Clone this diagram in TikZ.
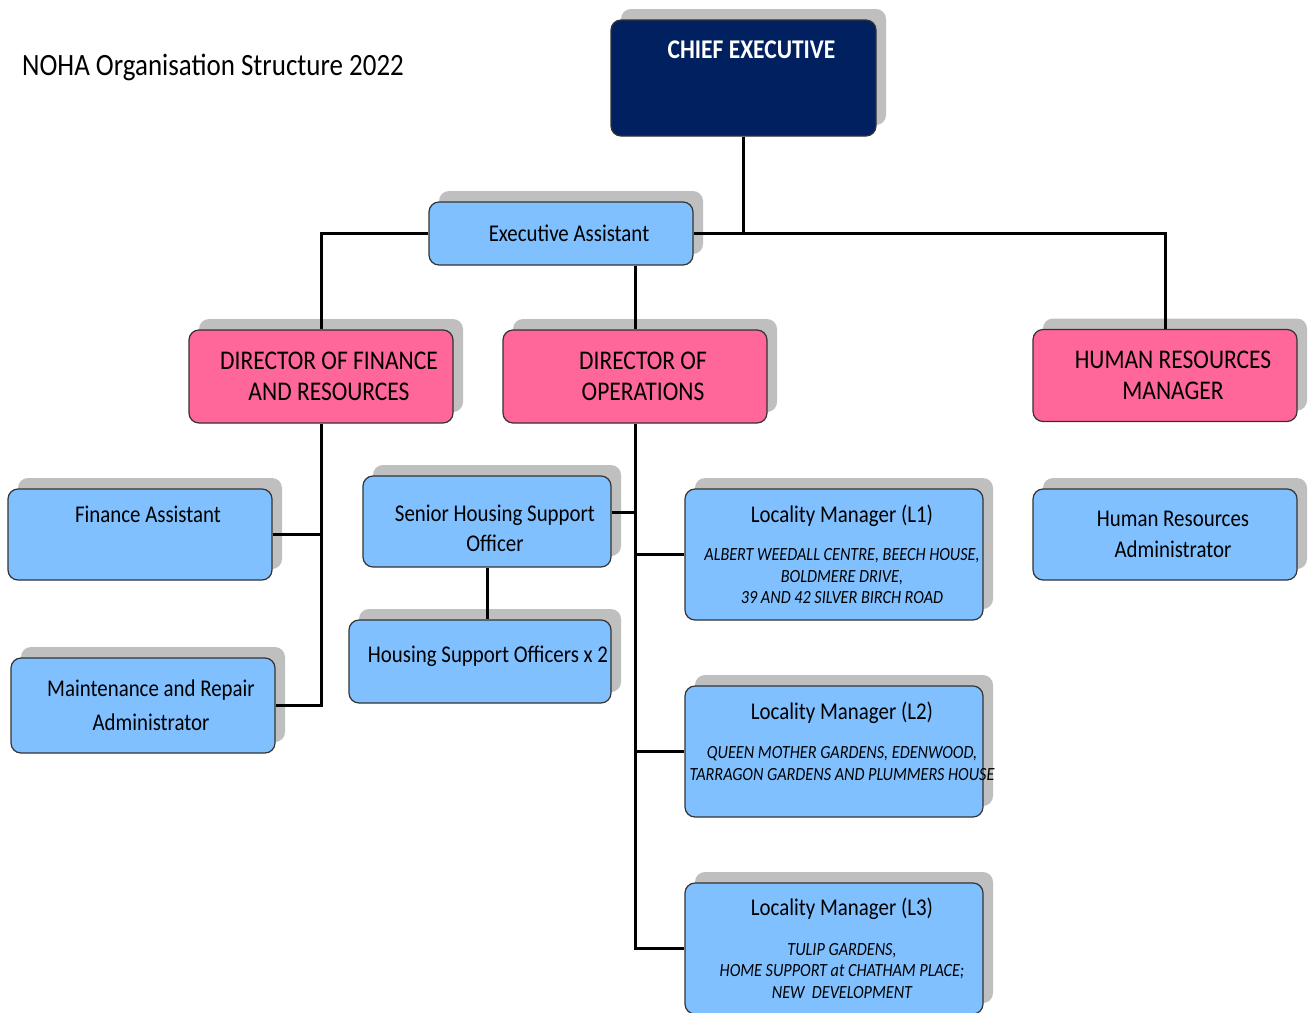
\documentclass[tikz,border=0pt]{standalone}
\usepackage{fontspec}
\setmainfont{Carlito}[FakeStretch=0.87]
\usetikzlibrary{shadows}

\definecolor{navy}{RGB}{0,32,96}
\definecolor{rosepink}{RGB}{255,102,153}
\definecolor{skyblue}{RGB}{128,192,255}
\definecolor{shadowgray}{RGB}{191,191,191}

\tikzset{
    post/.style={draw=black!80, line width=1.2pt, rounded corners=10pt, align=flush center, inner xsep=0pt,
        drop shadow={shadow xshift=10pt, shadow yshift=11pt, fill=shadowgray, opacity=1},
        execute at begin node={\leftskip=16pt plus 1fill\rightskip=0pt plus 1fill\parfillskip=0pt\relax}},
    size/.style 2 args={minimum width=#1, text width=#1, minimum height=#2},
    chief/.style={post, fill=navy, text=white, font=\fontsize{27}{31}\selectfont\bfseries},
    director/.style={post, fill=rosepink, font=\fontsize{27}{31}\selectfont},
    staff/.style={post, fill=skyblue, font=\fontsize{24}{31}\selectfont},
    link/.style={line width=3pt, black}
}
\newcommand{\sites}[1]{{\itshape\fontsize{18.6}{21.5}\selectfont #1\par}}

\begin{document}
\begin{tikzpicture}[x=1pt,y=-1pt]
    \useasboundingbox (0,0) rectangle (1309,1012);
    \fill[white] (0,0) rectangle (1309,1012);
    \node[anchor=west, inner sep=0pt, font=\fontsize{31}{36}\selectfont] (title) at (22,67) {NOHA Organisation Structure 2022};
    \node[chief, size={265pt}{116pt}, text depth=56pt] (ceo) at (743.5,78) {CHIEF EXECUTIVE};
    \node[staff, size={264pt}{63pt}] (ea) at (561,233.5) {Executive Assistant};%top%
    \node[director, size={264pt}{93pt}] (dfr) at (321,376.5) {DIRECTOR OF FINANCE\\AND RESOURCES};
    \node[director, size={264pt}{93pt}] (dop) at (635,376.5) {DIRECTOR OF\\OPERATIONS};
    \node[director, size={264pt}{92pt}] (hrm) at (1165,375.5) {HUMAN RESOURCES\\MANAGER};%directors%
    \node[staff, size={264pt}{91pt}, text depth=40pt] (fa) at (140,534.5) {Finance Assistant};
    \node[staff, size={264pt}{95pt}, font=\fontsize{24}{34}\selectfont] (mra) at (143,705.5) {Maintenance and Repair\\Administrator};
    \node[staff, size={248pt}{91pt}, font=\fontsize{24}{30}\selectfont] (shso) at (487,521.5) {\rule{0pt}{30pt}Senior Housing Support\\Officer};
    \node[staff, size={262pt}{83pt}, text depth=15pt] (hso) at (480,661.5) {\mbox{Housing Support Officers x 2}};
    \node[staff, size={298pt}{131pt}] (lm1) at (834,554.5) {Locality Manager (L1)\par\vspace{17pt}\sites{\mbox{ALBERT WEEDALL CENTRE, BEECH HOUSE,}\\BOLDMERE DRIVE,\\39 AND 42 SILVER BIRCH ROAD}};
    \node[staff, size={298pt}{131pt}] (lm2) at (834,751.5) {Locality Manager (L2)\par\vspace{18pt}\sites{QUEEN MOTHER GARDENS, EDENWOOD,\\\makebox[0pt]{TARRAGON GARDENS AND PLUMMERS HOUSE}\\\mbox{}}};
    \node[staff, size={298pt}{131pt}] (lm3) at (834,948.5) {Locality Manager (L3)\par\vspace{18pt}\sites{TULIP GARDENS,\\HOME SUPPORT at CHATHAM PLACE;\\NEW\ \ DEVELOPMENT}};
    \node[staff, size={264pt}{91pt}] (hra) at (1165,534.5) {Human Resources\\Administrator};%staff%
    \draw[link] (ceo.south) |- (ea.east);
    \draw[link] (ea.east) -| (hrm.north);
    \draw[link] (ea.west) -| (dfr.north);
    \draw[link] (ea.south -| dop.north) -- (dop.north);
    \draw[link] (dfr.south) |- (mra.east);
    \draw[link] (fa.east) -- (fa.east -| dfr.south);
    \draw[link] ([yshift=9pt]shso.east) -- ([yshift=9pt]shso.east -| dop.south);
    \draw[link] (shso.south) -- (shso.south |- hso.north);
    \draw[link] (dop.south) |- (lm3.west);
    \draw[link] (dop.south |- lm1.west) -- (lm1.west);
    \draw[link] (dop.south |- lm2.west) -- (lm2.west);
\end{tikzpicture}
\end{document}
